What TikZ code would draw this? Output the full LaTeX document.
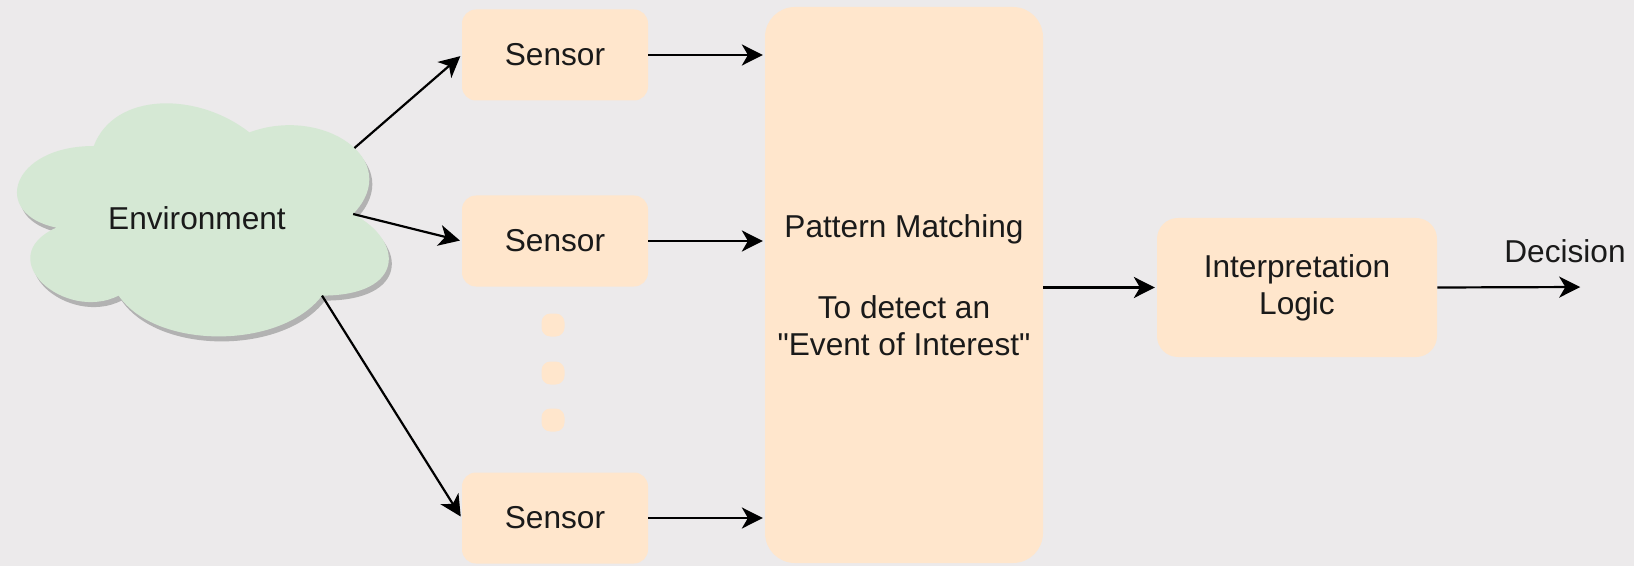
\documentclass[tikz,border=0pt]{standalone}
\usepackage{fontspec}
\setmainfont{Liberation Sans}[Ligatures=TeXOff]
\usetikzlibrary{positioning, arrows.meta, shadows}
\definecolor{BackColor}{RGB}{236,234,235}
\definecolor{BoxColor}{RGB}{255,230,204}
\definecolor{CloudColor}{RGB}{213,232,212}
\definecolor{TextColor}{RGB}{26,26,26}
\tikzstyle{arrow} = [line width=1.25pt, black, -{Stealth[length=12pt, width=12pt, inset=3.5pt]}, shorten >=1pt]
\tikzstyle{block} = [fill=BoxColor, rounded corners=0.28cm, text=TextColor, align=center, font=\fontsize{18}{21}\selectfont]
\tikzstyle{dotbox} = [fill=BoxColor, rounded corners=0.18cm, minimum size=0.46cm, inner sep=0pt]

\begin{document}
\begin{tikzpicture}
    % Background
    \fill[BackColor] (0,0) rectangle (32.68,-11.32);
    \useasboundingbox (0,0) rectangle (32.68,-11.32);

    % Environment
    \begin{scope}[shift={(-0.20,-1.56)}, x=8.30cm, y=-5.44cm]
        \fill[CloudColor, drop shadow={shadow xshift=0.06cm, shadow yshift=-0.1cm, fill=black!30, opacity=1}]
            (0.25,0.25) .. controls (0.05,0.25) and (0,0.5) .. (0.16,0.55)
            .. controls (0,0.66) and (0.18,0.9) .. (0.31,0.8)
            .. controls (0.4,1) and (0.7,1) .. (0.8,0.8) coordinate (c3)
            .. controls (1,0.8) and (1,0.6) .. (0.875,0.5) coordinate (c2)
            .. controls (1,0.3) and (0.8,0.1) .. coordinate[pos=0.45] (c1) (0.625,0.2)
            .. controls (0.5,0.05) and (0.3,0.05) .. cycle;
    \end{scope}
    \node[text=TextColor, font=\fontsize{18}{21}\selectfont] (env) at (3.94,-4.36) {Environment};

    % Sensors
    \node[block, minimum width=3.72cm, minimum height=1.82cm] (s1) at (11.10,-1.10) {Sensor};
    \node[block, minimum width=3.72cm, minimum height=1.82cm] (s2) at (11.10,-4.82) {Sensor};
    \node[block, minimum width=3.72cm, minimum height=1.82cm] (s3) at (11.10,-10.36) {Sensor};

    % Dots
    \foreach \y [count=\i] in {-6.50,-7.46,-8.40}
        \node[dotbox] (d\i) at (11.06,\y) {};

    % Pattern matching
    \node[block, minimum width=5.56cm, minimum height=11.12cm, rounded corners=0.6cm] (pm) at (18.08,-5.70)
        {Pattern Matching\\[25pt]To detect an\\"Event of Interest"};

    % Interpretation
    \node[block, minimum width=5.60cm, minimum height=2.78cm, rounded corners=0.42cm] (il) at (25.94,-5.75)
        {Interpretation\\Logic};
    \coordinate (dec) at (31.64,-5.74);

    % Connectors
    \draw[arrow] (c1) -- (s1.west);
    \draw[arrow] (c2) -- (s2.west);
    \draw[arrow] (c3) -- (s3.west);
    \foreach \s in {s1,s2,s3}
        \draw[arrow] (\s.east) -- (\s.east -| pm.west);
    \draw[arrow] (pm.east |- il.west) -- (il.west);
    \draw[arrow] (il.east) -- (dec)
        node[above=10pt, xshift=-0.34cm, text=TextColor, font=\fontsize{18}{21}\selectfont] (dectext) {Decision};
\end{tikzpicture}
\end{document}
